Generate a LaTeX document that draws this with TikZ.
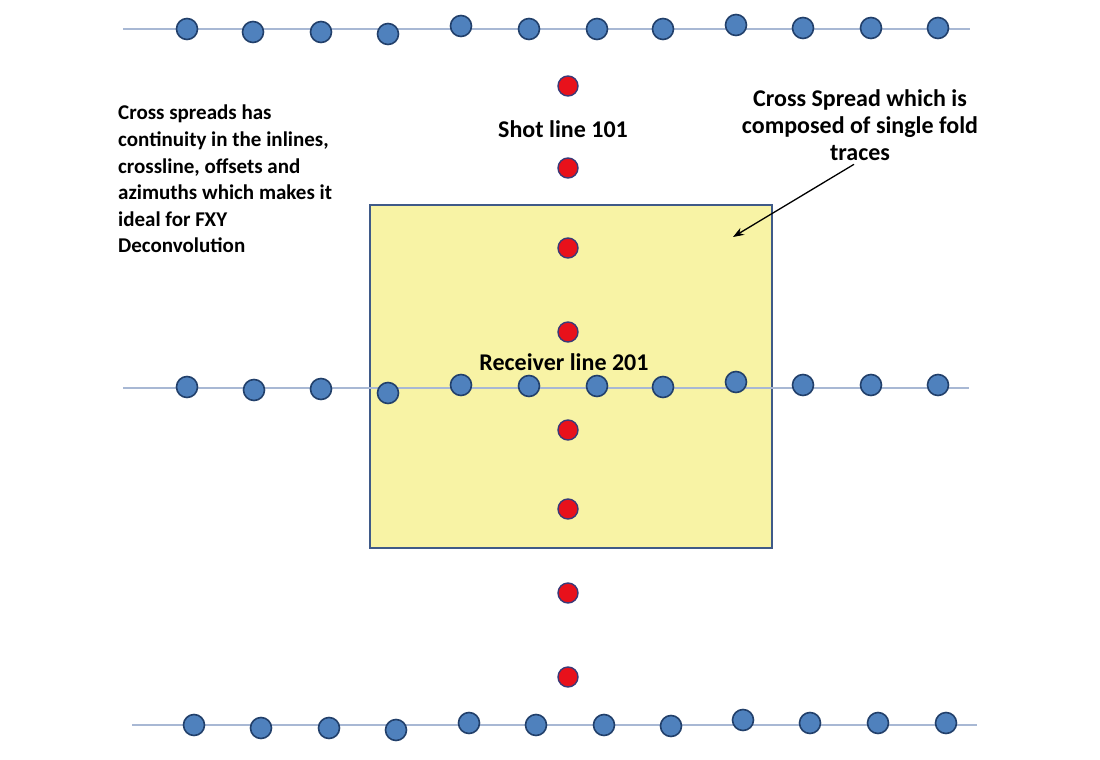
\documentclass[tikz,border=0pt]{standalone}
\usepackage{fontspec}
\setmainfont{Carlito}
\usepackage{xcolor}
\usepackage{tikz}
\usetikzlibrary{arrows.meta, positioning}
\definecolor{dotblue}{HTML}{4F81BD}
\definecolor{dotedge}{HTML}{22406B}
\definecolor{shotred}{HTML}{E8111B}
\definecolor{shotedge}{HTML}{3A3A78}
\definecolor{linegray}{HTML}{A8B8D4}
\definecolor{boxfill}{HTML}{F8F3A5}
\definecolor{boxedge}{HTML}{3F5A88}
\tikzset{
  rcv/.style={circle, fill=dotblue, draw=dotedge, line width=1.6pt, minimum size=21pt, inner sep=0pt},
  shot/.style={circle, fill=shotred, draw=shotedge, line width=1.4pt, minimum size=20pt, inner sep=0pt},
  rline/.style={linegray, line width=1.5pt},
  lbl/.style={font=\fontsize{24}{27}\selectfont\bfseries, inner sep=0pt},
  sidelbl/.style={font=\fontsize{21}{26.6}\selectfont\bfseries, inner sep=0pt},
  pointer/.style={black, line width=1.3pt, -{Stealth[length=11pt, width=8pt]}}
}

\begin{document}
\begin{tikzpicture}[x=1pt, y=-1pt]
          \useasboundingbox (0,0) rectangle (1100,760);
          \fill[white] (0,0) rectangle (1100,760);
          % cross spread box
          \draw[fill=boxfill, draw=boxedge, line width=1.8pt] (370,205) rectangle (772,548);
          % receiver lines
          \coordinate (topL) at (123,29);   \coordinate (topR) at (970,29);
          \coordinate (midL) at (123,388);  \coordinate (midR) at (969,388);
          \coordinate (botL) at (132,725);  \coordinate (botR) at (977,725);
          \draw[rline] (topL) -- (topR);
          \draw[rline] (midL) -- (midR);
          \draw[rline] (botL) -- (botR);
          \foreach \x/\y [count=\i] in {187/29, 253/32, 321/32, 388/34, 461/26, 529/29, 597/29, 663/29, 736/25, 803/28, 871/28, 938/28}
            \node[rcv] (t\i) at (\x,\y) {};
          \foreach \x/\y [count=\i] in {187/387, 254/390, 321/389, 388/393, 461/385, 529/386, 597/386, 663/387, 736/382, 803/385, 871/385, 938/385}
            \node[rcv] (m\i) at (\x,\y) {};
          \foreach \x/\y [count=\i] in {194/725, 261/728, 329/728, 396/730, 469/723, 536/725, 604/725, 671/726, 743/720, 810/723, 878/723, 946/723}
            \node[rcv] (b\i) at (\x,\y) {};
          % shot line
          \foreach \y [count=\i] in {86, 168, 248, 332, 430, 509, 593, 677}
            \node[shot] (s\i) at (568,\y) {};
          \node[lbl] (shotlbl) at (563,129) {Shot line 101};
          \node[lbl] (rcvlbl) at (564,362) {Receiver line 201};
          % notes
          \node[sidelbl, anchor=north west, align=left] (leftnote) at (118,105) {Cross spreads has\\continuity in the inlines,\\crossline, offsets and\\azimuths which makes it\\ideal for FXY\\Deconvolution};
          \node[lbl, align=center] (note) at (860,125) {Cross Spread which is\\composed of single fold\\traces};
          \coordinate (tip) at (733,237);
          \draw[pointer, shorten <=7pt] (note.south) -- (tip);
        \end{tikzpicture}
\end{document}
